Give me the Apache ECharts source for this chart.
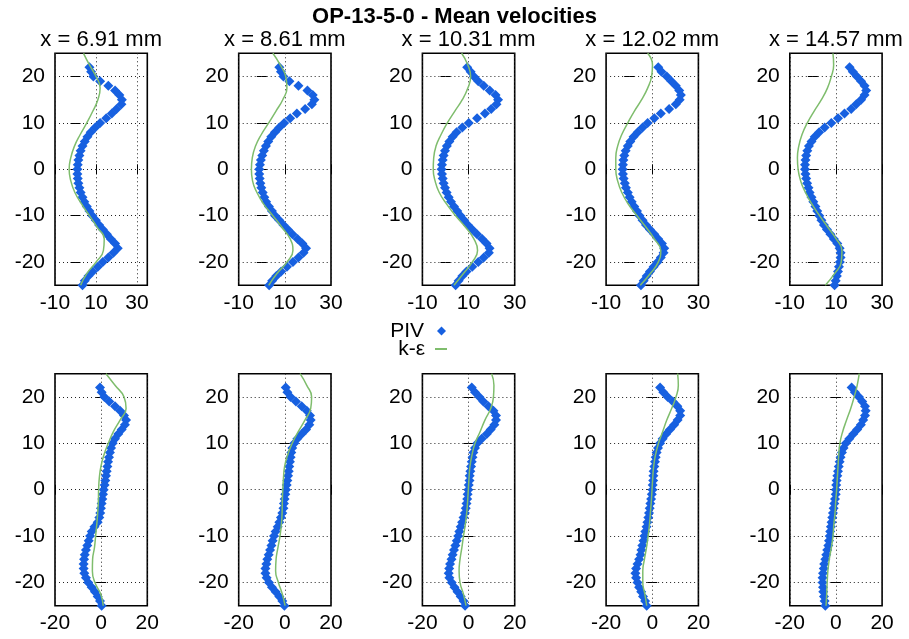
<!DOCTYPE html>
<html>
<head>
<meta charset="utf-8">
<title>OP-13-5-0 - Mean velocities</title>
<script src="https://cdn.jsdelivr.net/npm/echarts@6/dist/echarts.min.js"></script>
<style>
  html, body { margin: 0; padding: 0; background: #ffffff; }
  #chart { width: 909px; height: 639px; }
</style>
</head>
<body>
<div id="chart"></div>
<script>
// Measurement stations along the channel
const STATIONS = ['x = 6.91 mm', 'x = 8.61 mm', 'x = 10.31 mm', 'x = 12.02 mm', 'x = 14.57 mm'];

// Transverse positions (mm) of the PIV samples and of the k-epsilon profile
const Y_PIV = [22, 21, 20, 19, 18, 17, 16, 15, 14, 13, 12, 11, 10, 9, 8, 7, 6, 5, 4, 3,
               2, 1, 0, -1, -2, -3, -4, -5, -6, -7, -8, -9, -10, -11, -12, -13, -14, -15, -16, -17,
               -18, -19, -20, -21, -22, -23, -24, -25];
const Y_KE = [25, 22.5, 20, 17.5, 15, 12.5, 10, 7.5, 5, 2.5, 0, -2.5, -5, -7.5, -10, -12.5, -15, -17.5, -20, -22.5, -25];

// Axis ticks
const Y_TICKS = [-20, -10, 0, 10, 20];
const TOP_X_TICKS = [-10, 10, 30];
const BOT_X_TICKS = [-20, 0, 20];
const TOP_X_MIN = [-10, -10, -10, -10, -10];
const TOP_X_MAX = [35, 30, 30, 30, 30];
const BOT_X_MIN = [-20, -20, -20, -20, -20];
const BOT_X_MAX = [20, 20, 20, 20, 20];

// Upper row: PIV profiles (values at Y_PIV)
const PIV_TOP_691 = [6.8, 7.6, 8.7, 12, 16, 19.3, 21.4, 22.6, 22.4, 20,
                     17.7, 15, 12, 9.6, 7.4, 5.8, 4.5, 3.4, 2.5, 1.9,
                     1.4, 1.1, 0.9, 0.9, 1.1, 1.4, 1.9, 2.5, 3.4, 4.3,
                     5.5, 6.8, 8.2, 9.9, 11.5, 13.3, 15.3, 17.2, 19.3, 20.6,
                     18.5, 16, 13.3, 10.9, 8.4, 6.3, 4.5, 3.4];
const PIV_TOP_861 = [7.6, 8.3, 9.4, 12, 15.9, 19.8, 22.1, 22.8, 21.7, 18.8,
                     15.2, 12.3, 9.7, 7.6, 5.7, 4.1, 2.8, 1.8, 0.9, 0.2,
                     -0.4, -0.8, -1.1, -1.1, -0.9, -0.6, -0.2, 0.4, 1.1, 1.9,
                     3.1, 4.4, 5.8, 7.6, 9.4, 11.3, 13.3, 15.5, 17.6, 19.2,
                     18.1, 15.9, 13.5, 10.9, 8.4, 6.3, 4.5, 3.2];
const PIV_TOP_1031 = [9.4, 10.9, 12.3, 14.2, 16.6, 19.2, 21.7, 22.8, 22.1, 19.8,
                      17.1, 13.7, 10.1, 7.3, 4.8, 3.1, 1.7, 0.6, -0.2, -0.8,
                      -1.2, -1.5, -1.7, -1.5, -1.2, -0.8, -0.2, 0.5, 1.4, 2.4,
                      3.7, 5.1, 6.5, 8.1, 9.7, 11.6, 13.7, 15.9, 17.8, 19.1,
                      18.8, 16.6, 14.2, 11.6, 9.1, 7.3, 5.7, 4.4];
const PIV_TOP_1202 = [12.6, 14, 16.3, 18.3, 20.2, 21.7, 22.4, 21.9, 20.2, 17.3,
                      13.7, 10.9, 8, 5.8, 3.7, 1.9, 0.5, -0.6, -1.5, -2.1,
                      -2.5, -2.7, -2.8, -2.7, -2.4, -1.9, -1.4, -0.6, 0.2, 1.1,
                      2.2, 3.4, 4.5, 5.8, 7.3, 9, 10.9, 12.6, 14.2, 15.2,
                      14.9, 13.7, 12.3, 10.6, 9, 7.6, 6.3, 5.1];
const PIV_TOP_1457 = [15.9, 17.3, 19.1, 20.9, 22.4, 23.1, 22.4, 20.9, 18.8, 16.6,
                      13.7, 10.9, 8, 5.1, 2.7, 0.8, -0.6, -1.7, -2.4, -2.9,
                      -3.2, -3.4, -3.4, -3.2, -2.9, -2.5, -1.9, -1.4, -0.6, 0.2,
                      1.1, 1.9, 2.8, 3.7, 4.8, 6.1, 7.6, 9.1, 10.6, 11.6,
                      12, 12, 11.7, 11.3, 10.9, 10.4, 9.9, 9.4];

// Upper row: k-epsilon profiles (values at Y_KE)
const KE_TOP_691 = [3.9, 6.8, 10, 12, 10.9, 8.4, 5.5, 2.3, -0.5, -2.3, -3.1,
                    -2.3, -0.3, 3, 6.8, 10.6, 14, 13.6, 10, 5.5, 2.5];
const KE_TOP_861 = [4.8, 8, 10.4, 10.9, 9.1, 6.1, 3, -0.2, -2.7, -4.1, -4.5,
                    -4, -2.1, 0.8, 4.8, 8.7, 12.3, 13.5, 10.9, 6.5, 3];
const KE_TOP_1031 = [7, 9.7, 10.9, 9.7, 7.3, 4, 0.8, -1.9, -4.1, -5.1, -5.3,
                     -4.5, -2.7, 0.5, 4.4, 8.7, 12.3, 13.9, 11.6, 7.7, 3.7];
const KE_TOP_1202 = [8, 10.1, 9.7, 8, 5.4, 2.2, -0.6, -3.2, -5, -5.8, -5.8,
                     -5, -3.2, -0.4, 3.4, 7.3, 10.9, 13.7, 12.6, 9.1, 4.8];
const KE_TOP_1457 = [8.7, 9, 8, 6.3, 3.7, 0.5, -2.4, -4.7, -6.1, -6.7, -6.4,
                     -5.3, -3.2, -0.4, 2.9, 6.5, 10.1, 12.6, 12.3, 9.4, 5.4];

// Lower row: PIV profiles (values at Y_PIV)
const PIV_BOT_691 = [-0.5, 0.2, 1.4, 3.5, 6, 8.2, 9.9, 10.8, 10.3, 8.9,
                     7.4, 6, 5, 4.3, 3.8, 3.4, 3, 2.7, 2.4, 2.1,
                     1.8, 1.5, 1.1, 0.8, 0.5, 0.2, -0.1, -0.4, -0.8, -1.5,
                     -2.9, -4.1, -4.8, -5.4, -6, -6.6, -7.1, -7.4, -7.6, -7.6,
                     -7.3, -6.6, -5.6, -4.1, -2.7, -1.5, -0.5, 0.2];
const PIV_BOT_861 = [0.4, 1.1, 2.5, 4.8, 7.3, 9.5, 10.9, 11.2, 10.6, 9.2,
                     7.3, 5.4, 4.1, 3.2, 2.8, 2.5, 2.2, 1.9, 1.7, 1.4,
                     1.1, 0.8, 0.5, 0.2, -0.1, -0.4, -0.6, -1.1, -1.7, -2.4,
                     -3.1, -4, -4.7, -5.3, -5.8, -6.4, -7, -7.6, -8, -8.4,
                     -8.4, -7.9, -6.9, -5.6, -4, -2.4, -1.1, -0.2];
const PIV_BOT_1031 = [1.4, 2.8, 4.7, 6.4, 8.6, 10.8, 11.9, 11.9, 11.2, 9.6,
                      7.9, 5.7, 3.8, 2.8, 2.1, 1.7, 1.4, 1.1, 0.8, 0.5,
                      0.4, 0.1, -0.1, -0.4, -0.6, -0.9, -1.2, -1.6, -2.2, -2.8,
                      -3.4, -4, -4.5, -5.1, -5.7, -6.3, -6.9, -7.4, -8, -8.4,
                      -8.6, -8.3, -7.3, -6.1, -4.8, -3.4, -2.2, -1.5];
const PIV_BOT_1202 = [3.4, 4.8, 6.7, 8.9, 10.9, 12.1, 12.1, 11, 9.5, 7.7,
                      6, 4.5, 3.4, 2.5, 1.9, 1.5, 1.2, 0.9, 0.6, 0.5,
                      0.4, 0.2, 0.1, -0.2, -0.5, -0.8, -1.1, -1.4, -1.7, -2.1,
                      -2.5, -3, -3.4, -3.8, -4.3, -4.7, -5.1, -5.7, -6.4, -7,
                      -7.3, -7, -6.4, -5.7, -4.8, -4, -3.1, -2.4];
const PIV_BOT_1457 = [6.8, 8.2, 10, 11.4, 12.6, 12.9, 12.6, 11.8, 10.8, 9.2,
                      7.5, 5.8, 4.3, 3.3, 2.6, 2, 1.6, 1.2, 0.9, 0.6,
                      0.3, 0.1, 0, -0.1, -0.4, -0.7, -1, -1.3, -1.6, -1.9,
                      -2.2, -2.5, -2.7, -3, -3.3, -3.8, -4.2, -4.6, -5.1, -5.3,
                      -5.6, -5.8, -5.8, -5.6, -5.5, -5.2, -4.9, -4.6];

// Lower row: k-epsilon profiles (values at Y_KE)
const KE_BOT_691 = [2.1, 6, 9.9, 10.8, 8.2, 5.3, 3.1, 1.2, -0.1, -0.8, -1.1,
                    -1.2, -1.5, -1.9, -2.4, -2.9, -3.7, -3.8, -2.7, -0.2, 0.9];
const KE_BOT_861 = [6.6, 9.5, 11.6, 11.2, 8.7, 5.8, 3.2, 1.2, -0.1, -0.6, -0.9,
                    -1.1, -1.2, -1.5, -2.1, -3, -3.8, -4, -2.8, -1.1, 0.1];
const KE_BOT_1031 = [10, 11, 10.8, 9.6, 7.1, 5, 2.8, 1.5, 0.6, 0.2, -0.1,
                     -0.4, -0.8, -1.4, -2.2, -2.9, -3.7, -4.1, -3.7, -2.2, -1.1];
const KE_BOT_1202 = [11, 11.3, 10.3, 8.4, 6.3, 4.5, 2.7, 1.4, 0.6, 0.2, -0.1,
                     -0.4, -0.8, -1.2, -1.8, -2.5, -3.4, -4.1, -4.1, -3.2, -2.4];
const KE_BOT_1457 = [10.1, 9.2, 7.9, 6.4, 4.6, 2.9, 1.7, 1.2, 0.9, 0.6, 0.3,
                     -0.1, -0.4, -0.9, -1.3, -2, -2.9, -3.5, -3.8, -4, -4.3];

const PIV_TOP = [PIV_TOP_691, PIV_TOP_861, PIV_TOP_1031, PIV_TOP_1202, PIV_TOP_1457];
const KE_TOP = [KE_TOP_691, KE_TOP_861, KE_TOP_1031, KE_TOP_1202, KE_TOP_1457];
const PIV_BOT = [PIV_BOT_691, PIV_BOT_861, PIV_BOT_1031, PIV_BOT_1202, PIV_BOT_1457];
const KE_BOT = [KE_BOT_691, KE_BOT_861, KE_BOT_1031, KE_BOT_1202, KE_BOT_1457];

// ---- styling and layout ----
const FONT = 'Liberation Sans';
const BLUE = '#1760e0';
const GREEN = '#7fbd6d';
const PANEL_LEFT = 55, PANEL_STEP = 183.7, PANEL_W = 92.3, PANEL_H = 232;
const ROW_TOP = [53.3, 373.7];

function pairs(xs, ys) {
  const out = [];
  const n = Math.min(xs.length, ys.length);
  for (let i = 0; i < n; i++) out.push([xs[i], ys[i]]);
  return out;
}

const grids = [], xAxes = [], yAxes = [], series = [];
const titles = [{
  text: 'OP-13-5-0 - Mean velocities',
  left: 'center', top: 6, padding: 0,
  textStyle: { fontFamily: FONT, fontSize: 22, fontWeight: 'bold', color: '#000' }
}];

const tickStyle = { inside: true, length: 5, lineStyle: { color: '#000', width: 1 } };
const gridLineStyle = { color: '#222', type: [1, 3], width: 1 };
const labelStyle = { fontFamily: FONT, fontSize: 21, color: '#000' };

for (let row = 0; row < 2; row++) {
  for (let col = 0; col < 5; col++) {
    const g = row * 5 + col;
    const left = PANEL_LEFT + col * PANEL_STEP;
    grids.push({
      left: left, top: ROW_TOP[row], width: PANEL_W, height: PANEL_H,
      show: true, borderColor: '#000', borderWidth: 1.6, backgroundColor: 'transparent'
    });
    const xTicks = row === 0 ? TOP_X_TICKS : BOT_X_TICKS;
    const xMin = row === 0 ? TOP_X_MIN[col] : BOT_X_MIN[col];
    const xMax = row === 0 ? TOP_X_MAX[col] : BOT_X_MAX[col];

    xAxes.push({
      type: 'value', gridIndex: g, position: 'bottom', min: xMin, max: xMax,
      axisLine: { show: false },
      axisTick: Object.assign({ customValues: xTicks }, tickStyle),
      axisLabel: Object.assign({ customValues: xTicks, margin: 7 }, labelStyle),
      splitLine: { show: true, lineStyle: gridLineStyle }
    });
    xAxes.push({
      type: 'value', gridIndex: g, position: 'top', min: xMin, max: xMax,
      axisLine: { show: false },
      axisTick: Object.assign({ customValues: xTicks }, tickStyle),
      axisLabel: { show: false },
      splitLine: { show: false }
    });
    yAxes.push({
      type: 'value', gridIndex: g, position: 'left', min: -25, max: 25,
      axisLine: { show: false },
      axisTick: Object.assign({ customValues: Y_TICKS }, tickStyle),
      axisLabel: Object.assign({ customValues: Y_TICKS, margin: 10 }, labelStyle),
      splitLine: { show: true, lineStyle: gridLineStyle }
    });
    yAxes.push({
      type: 'value', gridIndex: g, position: 'right', min: -25, max: 25,
      axisLine: { show: false },
      axisTick: Object.assign({ customValues: Y_TICKS }, tickStyle),
      axisLabel: { show: false },
      splitLine: { show: false }
    });

    const piv = row === 0 ? PIV_TOP[col] : PIV_BOT[col];
    const ke = row === 0 ? KE_TOP[col] : KE_BOT[col];
    series.push({
      type: 'scatter', name: 'PIV', xAxisIndex: 2 * g, yAxisIndex: 2 * g,
      data: pairs(piv, Y_PIV), symbol: 'diamond', symbolSize: 10,
      itemStyle: { color: BLUE, opacity: 1 }, z: 2, silent: true
    });
    series.push({
      type: 'line', name: 'k-ε', xAxisIndex: 2 * g, yAxisIndex: 2 * g,
      data: pairs(ke, Y_KE), smooth: true, symbol: 'none', showSymbol: false,
      lineStyle: { color: GREEN, width: 1.5 }, itemStyle: { color: GREEN }, z: 3, silent: true
    });

    if (row === 0) {
      titles.push({
        text: STATIONS[col], left: left + PANEL_W / 2, top: 29, padding: 0, textAlign: 'center',
        textStyle: { fontFamily: FONT, fontSize: 22, fontWeight: 'normal', color: '#000' }
      });
    }
  }
}

const chart = echarts.init(document.getElementById('chart'), null, { renderer: 'canvas' });
chart.setOption({
  backgroundColor: '#ffffff',
  animation: false,
  title: titles,
  legend: [
    {
      data: [{ name: 'PIV', icon: 'diamond' }],
      right: 463, top: 320.5, padding: 0, align: 'right', orient: 'vertical',
      itemWidth: 9, itemHeight: 9, selectedMode: false,
      itemStyle: { color: BLUE, opacity: 1 },
      textStyle: { fontFamily: FONT, fontSize: 21, color: '#000', padding: [0, 8, 0, 0] }
    },
    {
      data: [{ name: 'k-ε', icon: 'rect' }],
      right: 462, top: 338.5, padding: 0, align: 'right', orient: 'vertical',
      itemWidth: 12, itemHeight: 2, selectedMode: false,
      itemStyle: { color: GREEN },
      textStyle: { fontFamily: FONT, fontSize: 21, color: '#000', padding: [0, 5, 0, 0] }
    }
  ],
  grid: grids,
  xAxis: xAxes,
  yAxis: yAxes,
  series: series
});
</script>
</body>
</html>
